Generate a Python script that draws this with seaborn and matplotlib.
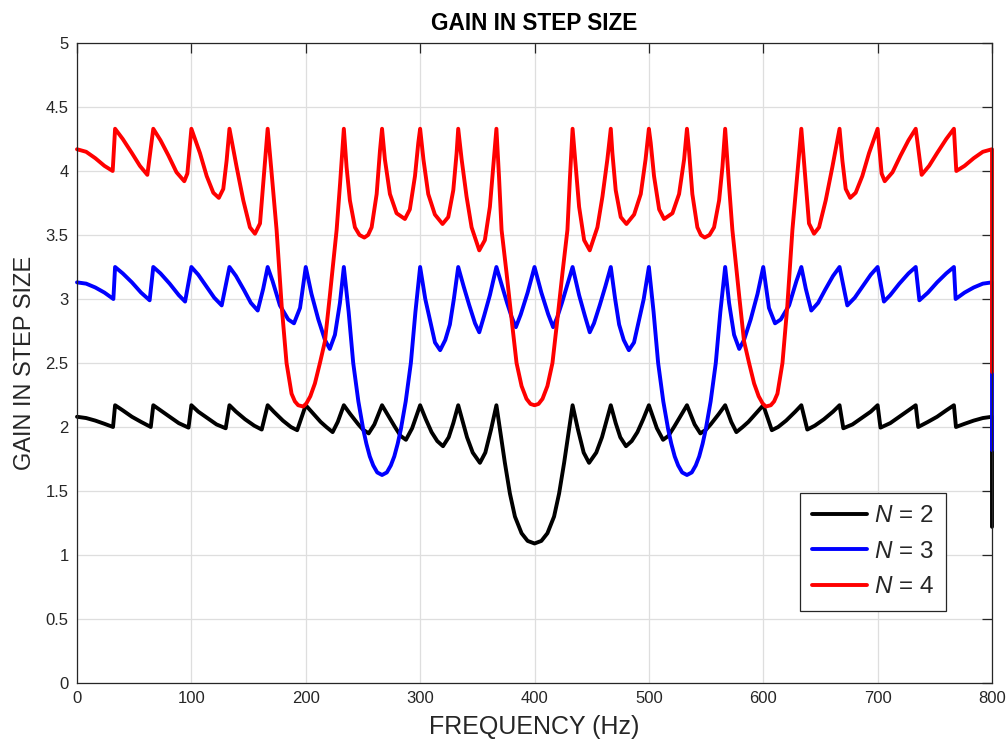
import matplotlib
matplotlib.use("Agg")
import matplotlib.pyplot as plt
import matplotlib.ticker as mticker
import seaborn as sns
import pandas as pd

# ---------------- data ----------------
freq_n2 = [0, 8, 16, 24, 31.5, 33.3, 40, 48, 56, 64.5, 66.7, 73, 81, 89, 97.5, 100,
           106, 114, 122, 130, 133.3, 139, 147, 155, 161.5, 166.7, 172, 180, 187, 192.5, 200,
           206, 213, 218, 223.5, 228, 233.3, 239, 246, 250, 255, 260, 266.7,
           272, 278, 283, 287.6, 293, 300, 305, 310, 315, 320, 325, 329, 333.3,
           337, 341, 346, 352.3, 357, 362, 366.7,
           369.8, 374.1, 378.5, 382.9, 388.7, 394, 400,
           406, 411.3, 417.1, 421.5, 425.9, 430.2, 433.3,
           438, 443, 447.7, 454, 459, 463, 466.7,
           471, 475, 480, 485, 490, 495, 500,
           507, 512.4, 517, 522, 528, 533.3,
           540, 545, 550, 554, 561, 566.7,
           572, 576.5, 582, 587, 594, 600,
           607.5, 613, 620, 628, 633.3,
           638.5, 645, 653, 661, 666.7,
           670, 678, 686, 694, 700,
           702.5, 711, 719, 727, 733.3,
           735.5, 744, 752, 760, 766.7,
           768.5, 776, 784, 792, 800, 800]
gain_n2 = [2.08, 2.07, 2.05, 2.025, 2.0, 2.17, 2.13, 2.08, 2.04, 2.0, 2.17, 2.13, 2.08, 2.03, 1.995, 2.17,
           2.12, 2.07, 2.02, 1.99, 2.17, 2.12, 2.06, 2.01, 1.98, 2.17, 2.12, 2.05, 2.0, 1.975, 2.17,
           2.11, 2.04, 2.0, 1.96, 2.04, 2.17, 2.1, 2.02, 1.98, 1.95, 2.02, 2.17,
           2.09, 2.0, 1.93, 1.90, 1.99, 2.17, 2.06, 1.96, 1.89, 1.85, 1.92, 2.03, 2.17,
           2.05, 1.92, 1.8, 1.72, 1.8, 1.98, 2.17,
           1.98, 1.72, 1.48, 1.30, 1.17, 1.11, 1.09,
           1.11, 1.17, 1.30, 1.48, 1.72, 1.98, 2.17,
           1.98, 1.8, 1.72, 1.8, 1.92, 2.05, 2.17,
           2.03, 1.92, 1.85, 1.89, 1.96, 2.06, 2.17,
           1.99, 1.90, 1.93, 2.0, 2.09, 2.17,
           2.02, 1.95, 1.98, 2.02, 2.1, 2.17,
           2.04, 1.96, 2.0, 2.04, 2.11, 2.17,
           1.975, 2.0, 2.05, 2.12, 2.17,
           1.98, 2.01, 2.06, 2.12, 2.17,
           1.99, 2.02, 2.07, 2.12, 2.17,
           1.995, 2.03, 2.08, 2.13, 2.17,
           2.0, 2.04, 2.08, 2.13, 2.17,
           2.0, 2.025, 2.05, 2.07, 2.08, 1.22]

freq_n3 = [0, 8, 16, 24, 31.8, 33.3, 40, 48, 56, 63.5, 66.7, 73, 81, 89, 94.5, 100,
           106, 113, 120, 126.5, 133.3, 139, 146, 152, 158, 162.8, 166.7,
           171, 177.4, 184.7, 189.7, 195, 200,
           205, 211, 216.8, 221, 225.5, 229.9, 233.3,
           237.5, 241.5, 246, 250.3, 253, 256, 259, 262.5, 266.7, 270.9, 274.4, 277.4, 280.4,
           283.1, 287.4, 291.9, 295.9, 300,
           304.5, 309, 313, 317.5, 322, 326, 329.5, 333.3,
           338, 343, 348, 351.7, 356, 361, 366.7,
           371, 376, 380, 383.7, 388, 394, 400,
           406, 412, 416.3, 420, 424, 429, 433.3,
           439, 444, 448.3, 452, 457, 462, 466.7,
           470.5, 474, 478, 482.5, 487, 491, 495.5, 500,
           504.1, 508.1, 512.6, 516.9, 519.6, 522.6, 525.6, 529.1, 533.3, 537.5, 541, 544, 547,
           549.7, 554, 558.5, 562.5, 566.7,
           570.1, 574.5, 579, 583.2, 589, 595, 600,
           605, 610.3, 615.3, 622.6, 629, 633.3,
           637.2, 642, 648, 654, 661, 666.7,
           673.5, 680, 687, 694, 700,
           705.5, 711, 719, 727, 733.3,
           736.5, 744, 752, 760, 766.7,
           768.2, 776, 784, 792, 800, 800]
gain_n3 = [3.13, 3.12, 3.09, 3.05, 3.0, 3.25, 3.2, 3.13, 3.05, 2.99, 3.25, 3.2, 3.12, 3.03, 2.98, 3.25,
           3.19, 3.1, 3.01, 2.95, 3.25, 3.18, 3.07, 2.97, 2.91, 3.08, 3.25,
           3.14, 2.95, 2.84, 2.81, 2.93, 3.25,
           3.04, 2.84, 2.68, 2.61, 2.72, 2.97, 3.25,
           2.9, 2.5, 2.2, 1.98, 1.87, 1.77, 1.70, 1.645, 1.625, 1.645, 1.70, 1.77, 1.87,
           1.98, 2.2, 2.5, 2.9, 3.25,
           3.0, 2.82, 2.66, 2.6, 2.68, 2.8, 3.0, 3.25,
           3.1, 2.95, 2.81, 2.74, 2.87, 3.03, 3.25,
           3.12, 2.97, 2.86, 2.78, 2.88, 3.05, 3.25,
           3.05, 2.88, 2.78, 2.86, 2.97, 3.12, 3.25,
           3.03, 2.87, 2.74, 2.81, 2.95, 3.1, 3.25,
           3.0, 2.8, 2.68, 2.6, 2.66, 2.82, 3.0, 3.25,
           2.9, 2.5, 2.2, 1.98, 1.87, 1.77, 1.70, 1.645, 1.625, 1.645, 1.70, 1.77, 1.87,
           1.98, 2.2, 2.5, 2.9, 3.25,
           2.97, 2.72, 2.61, 2.68, 2.84, 3.04, 3.25,
           2.93, 2.81, 2.84, 2.95, 3.14, 3.25,
           3.08, 2.91, 2.97, 3.07, 3.18, 3.25,
           2.95, 3.01, 3.1, 3.19, 3.25,
           2.98, 3.03, 3.12, 3.2, 3.25,
           2.99, 3.05, 3.13, 3.2, 3.25,
           3.0, 3.05, 3.09, 3.12, 3.13, 1.82]

freq_n4 = [0, 8, 16, 24, 31.2, 33.3, 40, 48, 55, 61.5, 66.7, 73, 80, 87, 93.8, 96.5, 100,
           107.5, 113.4, 119.2, 124, 127.9, 130.8, 133.3,
           139.6, 145.4, 151.2, 155.6, 160, 162.8, 166.7,
           170, 174.5, 179, 183.2, 187.6, 190.5, 193.4, 197.8, 200.6, 204, 208, 212.4, 216.8, 221, 227, 230, 233.3,
           235.7, 238.6, 243, 247, 251.2, 254.5, 257.6, 262, 264.9, 266.7,
           269.2, 273.6, 279.4, 286.7, 291, 295.5, 298.4, 300,
           302.9, 307.1, 312.9, 319.6, 324.6, 329, 331.9, 333.3,
           336.3, 340.6, 345, 351.7, 356.6, 361, 363.9, 366.7,
           369, 371.2, 375.6, 380, 384.3, 388.7, 393, 396.5, 400,
           403.5, 407, 411.3, 415.7, 420, 424.4, 428.8, 431, 433.3,
           436.1, 439, 443.4, 448.3, 455, 459.4, 463.7, 466.7,
           468.1, 471, 475.4, 480.4, 487.1, 492.9, 497.1, 500,
           501.6, 504.5, 509, 513.3, 520.6, 526.4, 530.8, 533.3,
           535.1, 538, 542.4, 545.5, 548.8, 553, 557, 561.4, 564.3, 566.7,
           570, 573, 579, 583.2, 587.6, 592, 596, 599.4, 602.2, 606.6, 609.5, 612.4, 616.8, 621, 625.5, 630, 633.3,
           637.2, 640, 644.4, 648.8, 654.6, 660.4, 666.7,
           669.2, 672.1, 676, 680.8, 686.6, 692.5, 700,
           703.5, 706.2, 713, 720, 727, 733.3,
           738.5, 745, 752, 760, 766.7,
           768.8, 776, 784, 792, 800, 800]
gain_n4 = [4.17, 4.15, 4.1, 4.04, 4.0, 4.33, 4.25, 4.14, 4.04, 3.97, 4.33, 4.24, 4.12, 3.99, 3.92, 3.98, 4.33,
           4.14, 3.96, 3.83, 3.79, 3.86, 4.08, 4.33,
           4.03, 3.77, 3.56, 3.51, 3.59, 3.9, 4.33,
           4.0, 3.54, 2.94, 2.5, 2.26, 2.2, 2.17, 2.16, 2.185, 2.24, 2.34, 2.5, 2.67, 3.02, 3.54, 3.9, 4.33,
           4.03, 3.77, 3.56, 3.5, 3.48, 3.5, 3.56, 3.82, 4.16, 4.33,
           4.09, 3.82, 3.67, 3.625, 3.70, 3.96, 4.22, 4.33,
           4.09, 3.82, 3.66, 3.586, 3.64, 3.85, 4.14, 4.33,
           4.09, 3.80, 3.56, 3.38, 3.46, 3.72, 4.03, 4.33,
           3.95, 3.54, 3.2, 2.84, 2.5, 2.32, 2.22, 2.18, 2.17,
           2.18, 2.22, 2.32, 2.5, 2.84, 3.2, 3.54, 3.95, 4.33,
           4.03, 3.72, 3.46, 3.38, 3.56, 3.80, 4.09, 4.33,
           4.14, 3.85, 3.64, 3.586, 3.66, 3.82, 4.09, 4.33,
           4.22, 3.96, 3.70, 3.625, 3.67, 3.82, 4.09, 4.33,
           4.16, 3.82, 3.56, 3.5, 3.48, 3.5, 3.56, 3.77, 4.03, 4.33,
           3.9, 3.54, 3.02, 2.67, 2.5, 2.34, 2.24, 2.185, 2.16, 2.17, 2.2, 2.26, 2.5, 2.94, 3.54, 4.0, 4.33,
           3.9, 3.59, 3.51, 3.56, 3.77, 4.03, 4.33,
           4.08, 3.86, 3.79, 3.83, 3.96, 4.14, 4.33,
           3.98, 3.92, 3.99, 4.12, 4.24, 4.33,
           3.97, 4.04, 4.14, 4.25, 4.33,
           4.0, 4.04, 4.1, 4.15, 4.17, 2.43]

series_labels = ["N = 2", "N = 3", "N = 4"]
legend_labels = [r"$\mathit{N}$ = 2", r"$\mathit{N}$ = 3", r"$\mathit{N}$ = 4"]
series_colors = ["#000000", "#0000ff", "#ff0000"]
x_ticks = [0, 100, 200, 300, 400, 500, 600, 700, 800]
y_ticks = [0, 0.5, 1, 1.5, 2, 2.5, 3, 3.5, 4, 4.5, 5]

# ---------------- build a long table ----------------
frames = []
for lab, fx, gy in zip(series_labels, [freq_n2, freq_n3, freq_n4], [gain_n2, gain_n3, gain_n4]):
    frames.append(pd.DataFrame({"freq": fx, "gain": gy, "series": lab}))
df = pd.concat(frames, ignore_index=True)

sns.set_style("white")
plt.rcParams["font.family"] = ["Liberation Sans", "DejaVu Sans"]
plt.rcParams["mathtext.fontset"] = "custom"
plt.rcParams["mathtext.it"] = "Liberation Sans:italic"
plt.rcParams["mathtext.rm"] = "Liberation Sans"

fig = plt.figure(figsize=(10.07, 7.45), dpi=100)
ax = fig.add_axes([77 / 1007, 1 - 683 / 745, (992 - 77) / 1007, (683 - 43) / 745])

sns.lineplot(data=df, x="freq", y="gain", hue="series", hue_order=series_labels,
             palette=dict(zip(series_labels, series_colors)), estimator=None,
             sort=False, linewidth=2.8, legend=False, ax=ax)
for ln in ax.lines:
    ln.set_clip_on(False)
    ln.set_solid_joinstyle("round")

ax.set_xlim(0, 800)
ax.set_ylim(0, 5)
ax.set_xticks(x_ticks)
ax.set_yticks(y_ticks)
ax.yaxis.set_major_formatter(mticker.FuncFormatter(lambda v, p: f"{v:g}"))
ax.grid(True, color="#dedede", linewidth=0.9)
ax.set_axisbelow(True)
for sp in ax.spines.values():
    sp.set_visible(True)
    sp.set_color("#262626")
    sp.set_linewidth(0.9)
ax.tick_params(direction="in", length=7, width=0.9, colors="#262626",
               labelsize=12, top=True, right=True, pad=6)

ax.set_xlabel("FREQUENCY (Hz)", fontsize=18, color="#262626", labelpad=6)
ax.set_ylabel("GAIN IN STEP SIZE", fontsize=17, color="#262626", labelpad=7)
ax.set_title("GAIN IN STEP SIZE", fontsize=16.3, fontweight="bold", color="#000000", pad=9)

leg = ax.legend(ax.lines[:3], legend_labels, loc="upper left",
                bbox_to_anchor=((800 - 77) / 915, (683 - 493) / 640),
                fontsize=17.5, frameon=True, fancybox=False, framealpha=1,
                edgecolor="#262626", handlelength=2.25, borderpad=0.5,
                labelspacing=0.56, handletextpad=0.3, borderaxespad=0)
leg.get_frame().set_linewidth(0.9)

fig.savefig("out.png", dpi=100, facecolor="white")
